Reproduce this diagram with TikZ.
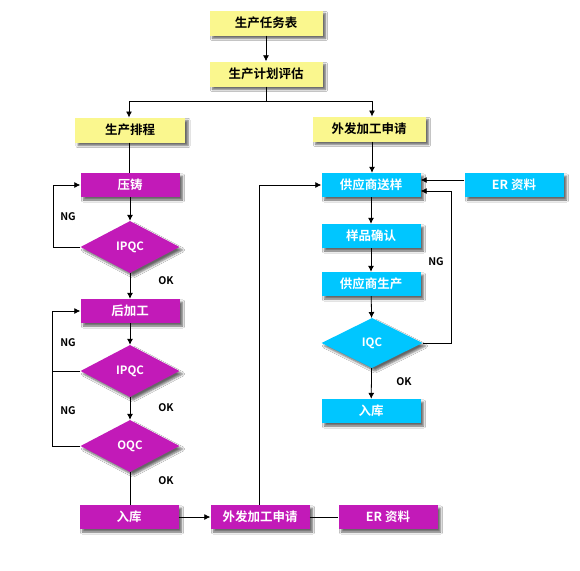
\documentclass[tikz,border=0pt]{standalone}
\usepackage{fontspec}
\setmainfont{Noto Sans CJK SC}[BoldFont={Noto Sans CJK SC Bold}]
\usetikzlibrary{shapes.geometric,shadows.blur,arrows.meta}
\definecolor{ylw}{HTML}{FAF78E}
\definecolor{mag}{HTML}{C21AB8}
\definecolor{cyn}{HTML}{00C6FF}
\tikzset{
  box/.style={rectangle,minimum width=99pt,minimum height=24pt,inner sep=0pt,
    font=\bfseries\fontsize{12.5}{13}\selectfont,
    blur shadow={shadow xshift=3pt,shadow yshift=-3pt,shadow blur steps=5,shadow opacity=60}},
  ybox/.style={box,fill=ylw,text=black,minimum width=113pt,minimum height=25pt},
  mbox/.style={box,fill=mag,text=white},
  cbox/.style={box,fill=cyn,text=white},
  dia/.style={diamond,aspect=1.9,inner sep=0pt,minimum width=99pt,minimum height=52pt,
    font=\bfseries\fontsize{11.5}{12}\selectfont,text=white,
    blur shadow={shadow xshift=3pt,shadow yshift=-3pt,shadow blur steps=5,shadow opacity=60}},
  mdia/.style={dia,fill=mag},
  cdia/.style={dia,fill=cyn,minimum width=101pt,minimum height=50pt},
  lbl/.style={font=\bfseries\fontsize{10.5}{11}\selectfont,text=black},
  arr/.style={-{Latex[length=6pt,width=6pt]},line width=0.8pt},
  ln/.style={line width=0.8pt},
}
\begin{document}
\begin{tikzpicture}[x=1pt,y=-1pt]
\useasboundingbox (0,0) rectangle (580,570);
\fill[white] (0,0) rectangle (580,570);
% top
\node[ybox] (t1) at (266,23) {生产任务表};
\node[ybox] (t2) at (266,74) {生产计划评估};
\node[ybox,minimum width=110pt] (p1) at (130,130) {生产排程};
\node[ybox] (w1) at (369,129) {外发加工申请};
% left column
\node[mbox] (yz) at (130,185) {压铸};
\node[mdia] (ip1) at (130,247) {IPQC};
\node[mbox] (hj) at (130,311) {后加工};
\node[mdia] (ip2) at (130,371) {IPQC};
\node[mdia] (oqc) at (130,446) {OQC};
\node[mbox] (rk1) at (129,517) {入库};
\node[mbox] (wf2) at (260,517) {外发加工申请};
\node[mbox] (er2) at (388,517) {ER 资料};
% right column
\node[cbox] (gs) at (371,185) {供应商送样};
\node[cbox] (er1) at (514,185) {ER 资料};
\node[cbox] (yp) at (371,236) {样品确认};
\node[cbox] (gsc) at (371,284) {供应商生产};
\node[cdia] (iqc) at (372,343) {IQC};
\node[cbox] (rk2) at (371,411) {入库};
% labels
\node[lbl] (ng1) at (68,217) {NG};
\node[lbl] (ok1) at (166,281) {OK};
\node[lbl] (ng2) at (68,343) {NG};
\node[lbl] (ok2) at (166,408) {OK};
\node[lbl] (ng3) at (68,411) {NG};
\node[lbl] (ok3) at (166,481) {OK};
\node[lbl] (ng4) at (436,262) {NG};
\node[lbl] (ok4) at (404,382) {OK};
% connectors
\draw[arr] (t1.south) -- (t2.south |- t2.north);
\draw[ln] (t2.south) -- ++(0,15) coordinate (br);
\draw[arr] (br) -| (129,117.5);
\draw[arr] (br) -| (372,116.5);
\draw[ln] (129,142.5) -- (yz.north -| 129,0);
\draw[arr] (yz) -- (ip1);
\draw[arr] (ip1) -- (hj);
\draw[arr] (hj) -- (ip2);
\draw[arr] (ip2) -- (oqc);
\draw[ln] (oqc) -- (rk1.north -| oqc.south);
\draw[arr] (ip1.west) -- (53,247) |- (yz.west);
\draw[arr] (ip2.west) -- (52,371) |- (hj.west);
\draw[ln] (oqc.west) -- (52,446) -- (52,371);
\draw[arr] (rk1) -- (wf2);
\draw[ln] (wf2) -- (er2);
\draw[arr] (wf2.north -| 259,0) |- (gs.west);
\draw[arr] (372,141.5) -- (gs.north -| 372,0);
\draw[arr] (er1.west |- 0,180) -- (gs.east |- 0,180);
\draw[arr] (gs) -- (yp);
\draw[arr] (yp) -- (gsc);
\draw[arr] (gsc) -- (iqc);
\draw[arr] (iqc) -- (rk2);
\draw[arr] (iqc.east) -- (451,343) |- (gs.east |- 0,191);
\end{tikzpicture}
\end{document}
